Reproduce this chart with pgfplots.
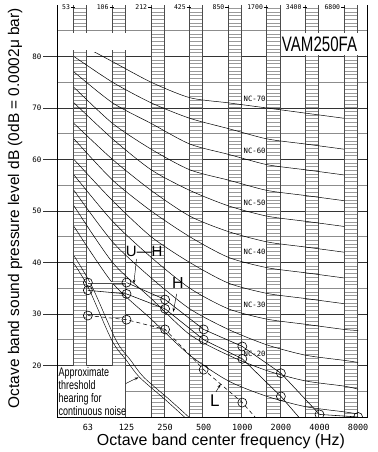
\documentclass[border=0pt]{standalone}
\usepackage{pgfplots}
\pgfplotsset{compat=1.18}
\usetikzlibrary{arrows.meta}
\usepackage{fontspec}
\setmainfont{Liberation Sans}
\newfontfamily\narrowsf[FakeStretch=0.72]{Liberation Sans}
\newfontfamily\techfont{DejaVu Sans Mono}

\tikzset{
  nc/.style={black, line width=0.5bp, smooth, tension=0.45, no marks},
  callout/.style={black, line width=0.45bp, -{Stealth[length=4bp,width=2.6bp]}},
}

\begin{document}
\begin{tikzpicture}
\useasboundingbox (-57bp,-35bp) rectangle (321bp,417bp);
\begin{axis}[
  at={(0,0)}, anchor=south west,
  scale only axis, width=310bp, height=412bp,
  xmin=-0.8, xmax=7.23, ymin=10, ymax=90,
  axis line style={draw=none},
  tick style={draw=none}, major tick length=0pt,
  xtick={0,...,7},
  xticklabels={63,125,250,500,1000,2000,4000,8000},
  ytick={20,30,...,80},
  /pgf/number format/assume math mode=true,
  xticklabel style={font=\techfont\fontsize{8.5}{9}\selectfont, yshift=-4bp},
  yticklabel style={font=\techfont\fontsize{7.5}{8}\selectfont, xshift=-12bp},
  xlabel={Octave band center frequency (Hz)},
  ylabel={Octave band sound pressure level dB (0dB = 0.0002μ bar)},
  xlabel style={font=\fontsize{16}{18}\selectfont, at={(axis description cs:0.529,-0.058)}, anchor=center},
  ylabel style={font=\fontsize{15.5}{18}\selectfont, at={(axis description cs:-0.135,0.507)}, anchor=center},
  clip mode=individual, clip marker paths=true,
]

% horizontal grid: 5 dB lines in grey, 10 dB lines dark with stubs left of the frame
\draw[black!45, line width=0.6bp] \foreach \y in {15,25,...,85} {(axis cs:-0.8,\y) -- (axis cs:7.23,\y)};
\draw[black!80, line width=0.6bp] \foreach \y in {20,30,...,80} {(axis cs:-0.8,\y) -- (axis cs:7.23,\y) (axis cs:-0.8,\y) -- ++(-14bp,0bp)};

% old octave band ladders (53, 106, ... 6800 Hz)
\pgfplotsinvokeforeach{-0.37,0.63,1.63,2.63,3.63,4.63,5.63,6.63}{
  \draw[black!40, line width=0.5bp] \foreach \y in {10.714,11.429,...,89.4} {(axis cs:#1,\y) -- ++(13.2bp,0bp)};
  \draw[black!70, line width=0.6bp] (axis cs:#1,10) -- (axis cs:#1,90) ++(13.2bp,0bp) -- ++(0bp,-412bp);
}
\fill[white] (axis cs:-0.385,81.2) rectangle (axis cs:-0.015,84.6);
\fill[white] (axis cs:0.615,81.2) rectangle (axis cs:0.985,84.6);

% band labels along the top
\foreach \xl/\lab in {-0.37/53,0.63/106,1.63/212,2.63/425,3.63/850,4.63/1700,5.63/3400,6.63/6800}{
  \edef\temp{\noexpand\node[anchor=east, inner sep=0pt, xshift=1.5bp, font=\noexpand\techfont\noexpand\fontsize{6.5}{7}\noexpand\selectfont] at (axis cs:\xl,89.6) {\lab\noexpand\kern1bp\noexpand\rule[0.28em]{4bp}{0.5bp}};}
  \temp
}

% NC curves
\begin{scope}
\clip (axis cs:-0.8,10) rectangle (axis cs:7.23,80.8);
\addplot[nc] coordinates {(-0.36,83) (0.64,79) (1.64,75) (2.64,72) (3.64,71) (4.64,70) (5.64,69) (6.64,68)};
\addplot[nc] coordinates {(-0.36,80) (0.64,75) (1.64,71) (2.64,68) (3.64,66) (4.64,64) (5.64,63) (6.64,62)};
\addplot[nc] coordinates {(-0.36,77) (0.64,71) (1.64,67) (2.64,63) (3.64,61) (4.64,59) (5.64,58) (6.64,57)};
\addplot[nc] coordinates {(-0.36,74) (0.64,67) (1.64,62) (2.64,58) (3.64,56) (4.64,54) (5.64,53) (6.64,52)};
\addplot[nc] coordinates {(-0.36,71) (0.64,64) (1.64,58) (2.64,54) (3.64,51) (4.64,49) (5.64,48) (6.64,47)};
\addplot[nc] coordinates {(-0.36,67) (0.64,60) (1.64,54) (2.64,49) (3.64,46) (4.64,44) (5.64,43) (6.64,42)};
\addplot[nc] coordinates {(-0.36,64) (0.64,56) (1.64,50) (2.64,45) (3.64,41) (4.64,39) (5.64,38) (6.64,37)};
\addplot[nc] coordinates {(-0.36,60) (0.64,52) (1.64,45) (2.64,40) (3.64,36) (4.64,34) (5.64,33) (6.64,32)};
\addplot[nc] coordinates {(-0.36,57) (0.64,48) (1.64,41) (2.64,35) (3.64,31) (4.64,29) (5.64,28) (6.64,27) (7.0,26.8)};
\addplot[nc] coordinates {(-0.36,54) (0.64,44) (1.64,37) (2.64,31) (3.64,27) (4.64,24) (5.64,22) (6.64,21) (7.0,20.6)};
\addplot[nc] coordinates {(-0.36,51) (0.64,40) (1.64,33) (2.64,26) (3.64,22) (4.64,19) (5.64,17) (6.64,16) (7.0,15.4)};
\addplot[nc] coordinates {(-0.36,47) (0.64,36) (1.64,29) (2.64,22) (3.64,17) (4.64,14) (5.64,12) (6.64,11) (7.0,10.6)};
\end{scope}

% NC labels
\begin{scope}[every node/.style={fill=white, inner sep=0.8bp, font=\techfont\fontsize{7.3}{8}\selectfont}]
\node at (axis cs:4.32,71.8) {NC-70};
\node at (axis cs:4.32,61.6) {NC-60};
\node at (axis cs:4.32,51.5) {NC-50};
\node at (axis cs:4.32,42.1) {NC-40};
\node at (axis cs:4.32,31.8) {NC-30};
\node at (axis cs:4.32,22.3) {NC-20};
\end{scope}

% approximate threshold of hearing
\addplot[black, line width=0.45bp, smooth, tension=0.5, no marks] coordinates {(-0.38,40.0) (0,35.3) (0.62,24.9) (1.0,21.0) (1.34,17.7) (2.0,13.4) (2.56,9.6)};
\addplot[black, line width=0.45bp, smooth, tension=0.5, no marks] coordinates {(-0.35,41.2) (0.11,35.3) (0.73,24.9) (1.11,21.0) (1.45,17.7) (2.11,13.4) (2.67,9.6)};

% measured spectra
\addplot[black!70, line width=0.4bp, double=white, double distance=1.1bp, no marks] coordinates {(0,36.1) (1,36.1)};
\addplot[black, line width=0.55bp, no marks] coordinates {(1,36.1) (2,32.8) (3,27.0) (4,23.7) (5,18.5) (6,10.5) (7,10.0)};
\addplot[black, line width=0.55bp, no marks] coordinates {(0,34.6) (1,33.9) (2,31.0) (3,25.0) (4,21.3) (5,14.0) (5.46,10)};
\addplot[black, line width=0.55bp, dash pattern=on 4bp off 3bp, no marks] coordinates {(0,29.7) (1,28.9) (2,27.0) (3,19.2) (4,12.8) (4.33,10)};
\addplot[only marks, mark=o, mark size=4.5bp, mark options={black, line width=0.6bp}] coordinates {
  (0,36.1) (1,36.1) (2,32.8) (3,27.0) (4,23.7) (5,18.5) (6,10.5) (7,10.0)
  (0,34.6) (1,33.9) (2,31.0) (3,25.0) (4,21.3) (5,14.0)
  (0,29.7) (1,28.9) (2,27.0) (3,19.2) (4,12.8)};

% callouts
\draw[callout] (axis cs:1.26,40.7) -- (axis cs:1.19,35.9);
\node[font=\fontsize{15}{15}\selectfont, inner sep=0pt] at (axis cs:1.46,42.1) {U—H};
\draw[callout] (axis cs:2.30,33.9) -- (axis cs:2.21,30.4);
\node[font=\fontsize{16}{16}\selectfont, inner sep=0pt] at (axis cs:2.33,36.0) {H};
\draw[callout] (axis cs:3.32,14.9) -- (axis cs:3.44,16.4);
\node[font=\fontsize{17}{17}\selectfont, inner sep=0pt] at (axis cs:3.29,13.2) {L};

% threshold note
\fill[white] (axis cs:-0.8,10) rectangle (axis cs:0.955,19.85);
\node[anchor=north west, inner sep=0pt, align=left, font=\narrowsf\fontsize{12.5}{13}\selectfont] at (axis cs:-0.76,19.6) {Approximate\\threshold\\hearing for\\continuous noise};
\draw[callout] (axis cs:0.98,16.5) -- (axis cs:1.31,17.7);

% model name
\fill[white] (axis cs:5.03,80.35) rectangle (axis cs:7.1,84.65);
\node[inner sep=0pt, font=\narrowsf\fontsize{21}{21}\selectfont] at (axis cs:6.0,82.3) {VAM250FA};

% frame (open at the top)
\draw[black, line width=0.6bp] (rel axis cs:0,1) -- (rel axis cs:0,0) -- (rel axis cs:1,0) -- (rel axis cs:1,1);
\end{axis}
\end{tikzpicture}
\end{document}
